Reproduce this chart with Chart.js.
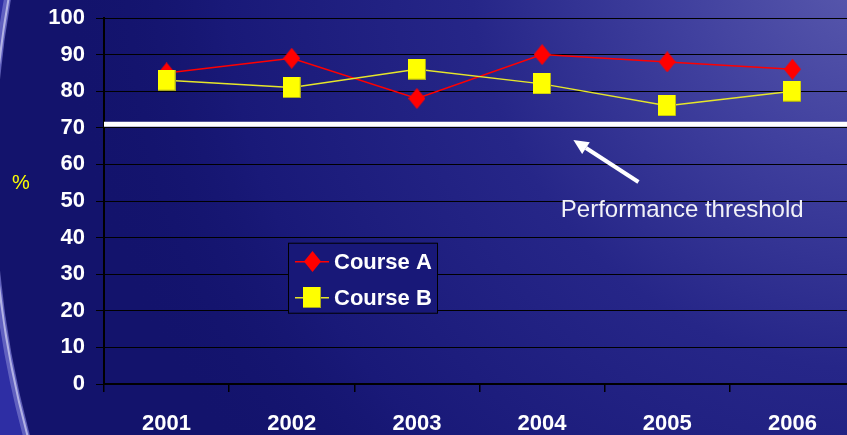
<!DOCTYPE html>
<html>
<head>
<meta charset="utf-8">
<script src="https://cdn.jsdelivr.net/npm/chart.js@4.4.1/dist/chart.umd.min.js"></script>
<style>
  html, body { margin: 0; padding: 0; width: 847px; height: 435px; overflow: hidden; background: #13136c; }
  #wrap { width: 860px; height: 435px; }
  canvas { display: block; }
</style>
</head>
<body>
<div id="wrap"><canvas id="chart" width="860" height="435"></canvas></div>
<script>
// ---- data ----
const years = ['2001', '2002', '2003', '2004', '2005', '2006'];
const courseA = [85, 89, 78, 90, 88, 86];
const courseB = [83, 81, 86, 82, 76, 80];
const yTicks = [0, 10, 20, 30, 40, 50, 60, 70, 80, 90, 100];
const threshold = 71;
const thresholdText = 'Performance threshold';
const unitText = '%';
const seriesNames = ['Course A', 'Course B'];

// ---- fonts ----
const SANS = "'Liberation Sans', Arial, sans-serif";

// ---- marker images ----
function makeDiamond(w, h, color) {
  const c = document.createElement('canvas');
  c.width = w; c.height = h;
  const g = c.getContext('2d');
  g.fillStyle = color;
  g.beginPath();
  g.moveTo(w / 2, 0);
  g.lineTo(w, h / 2);
  g.lineTo(w / 2, h);
  g.lineTo(0, h / 2);
  g.closePath();
  g.fill();
  return c;
}
function makeSquare(w, h, color, edge) {
  const c = document.createElement('canvas');
  c.width = w; c.height = h;
  const g = c.getContext('2d');
  g.fillStyle = color;
  g.fillRect(0, 0, w, h);
  g.fillStyle = edge;
  g.fillRect(0, h - 1, w, 1);
  g.fillRect(w - 1, 0, 1, h);
  return c;
}
const diamondImg = makeDiamond(17, 21, '#ff0000');
const squareImg = makeSquare(18, 21, '#ffff00', '#a8a820');

// ---- slide background ----
const backgroundPlugin = {
  id: 'slideBackground',
  beforeDraw(chart) {
    const ctx = chart.ctx;
    const W = chart.width, H = chart.height;
    ctx.save();
    ctx.fillStyle = 'rgb(19,19,108)';
    ctx.fillRect(0, 0, W, H);
    const rg = ctx.createRadialGradient(880, -40, 0, 880, -40, 820);
    rg.addColorStop(0, 'rgb(92,92,175)');
    rg.addColorStop(0.25, 'rgb(64,64,158)');
    rg.addColorStop(0.5, 'rgb(38,38,136)');
    rg.addColorStop(0.8, 'rgb(25,25,120)');
    rg.addColorStop(1, 'rgba(19,19,108,0)');
    ctx.fillStyle = rg;
    ctx.fillRect(0, 0, W, H);

    // curved band on the left edge: the part of a strip lying outside a large circle
    const cx = 995, cy = 175, R = 1000;
    ctx.save();
    ctx.beginPath();
    ctx.rect(0, 0, 120, H);
    ctx.clip();
    ctx.beginPath();
    ctx.rect(-10, -10, 140, H + 20);
    ctx.arc(cx, cy, R, 0, Math.PI * 2);
    ctx.fillStyle = 'rgb(46,46,164)';
    ctx.fill('evenodd');
    ctx.beginPath();
    ctx.arc(cx, cy, R + 3, Math.PI * 0.8, Math.PI * 1.2);
    ctx.strokeStyle = 'rgba(140,140,215,0.55)';
    ctx.lineWidth = 7;
    ctx.stroke();
    ctx.beginPath();
    ctx.arc(cx, cy, R + 2, Math.PI * 0.8, Math.PI * 1.2);
    ctx.strokeStyle = 'rgba(205,205,240,0.75)';
    ctx.lineWidth = 2;
    ctx.stroke();
    ctx.restore();
    ctx.restore();
  }
};

// ---- threshold line ----
const thresholdPlugin = {
  id: 'thresholdLine',
  beforeDatasetsDraw(chart) {
    const { ctx, chartArea, scales } = chart;
    const y = scales.y.getPixelForValue(threshold);
    ctx.save();
    ctx.strokeStyle = '#ffffff';
    ctx.lineWidth = 5;
    ctx.beginPath();
    ctx.moveTo(chartArea.left, y);
    ctx.lineTo(chartArea.right, y);
    ctx.stroke();
    ctx.restore();
  }
};

// ---- arrow + caption pointing at the threshold ----
const captionPlugin = {
  id: 'thresholdCaption',
  afterDatasetsDraw(chart) {
    const { ctx, scales } = chart;
    const x = scales.x, y = scales.y;
    const tipX = x.getPixelForValue(3.25), tipY = y.getPixelForValue(66.7);
    const tailX = x.getPixelForValue(3.77), tailY = y.getPixelForValue(55.2);
    const ang = Math.atan2(tipY - tailY, tipX - tailX);
    const headLen = 15, headHalf = 7;
    const baseX = tipX - Math.cos(ang) * headLen, baseY = tipY - Math.sin(ang) * headLen;
    ctx.save();
    ctx.strokeStyle = '#ffffff';
    ctx.fillStyle = '#ffffff';
    ctx.lineWidth = 4;
    ctx.beginPath();
    ctx.moveTo(tailX, tailY);
    ctx.lineTo(baseX, baseY);
    ctx.stroke();
    ctx.beginPath();
    ctx.moveTo(tipX, tipY);
    ctx.lineTo(baseX + Math.sin(ang) * headHalf, baseY - Math.cos(ang) * headHalf);
    ctx.lineTo(baseX - Math.sin(ang) * headHalf, baseY + Math.cos(ang) * headHalf);
    ctx.closePath();
    ctx.fill();
    ctx.font = '24px ' + SANS;
    ctx.fillStyle = '#f2f2f8';
    ctx.textAlign = 'left';
    ctx.textBaseline = 'alphabetic';
    ctx.fillText(thresholdText, x.getPixelForValue(3.15), y.getPixelForValue(45.5));
    ctx.restore();
  }
};

// ---- unit label and boxed legend ----
const legendPlugin = {
  id: 'boxedLegend',
  afterDraw(chart) {
    const { ctx, chartArea, scales } = chart;
    ctx.save();
    // unit label
    ctx.font = '20px ' + SANS;
    ctx.fillStyle = '#ffff00';
    ctx.textAlign = 'center';
    ctx.textBaseline = 'middle';
    ctx.fillText(unitText, chartArea.left - 83, scales.y.getPixelForValue(54.8));

    // legend box
    const left = chartArea.left + 184, top = scales.y.getPixelForValue(38.6);
    const w = 149, h = 70;
    ctx.fillStyle = 'rgb(24,24,120)';
    ctx.fillRect(left, top, w, h);
    ctx.strokeStyle = '#000000';
    ctx.lineWidth = 1;
    ctx.strokeRect(left + 0.5, top + 0.5, w, h);
    const rows = [top + 19, top + 55];
    chart.data.datasets.forEach((ds, i) => {
      const ry = rows[i];
      ctx.strokeStyle = ds.borderColor;
      ctx.lineWidth = 1.5;
      ctx.beginPath();
      ctx.moveTo(left + 7, ry);
      ctx.lineTo(left + 41, ry);
      ctx.stroke();
      const img = ds.pointStyle;
      ctx.drawImage(img, Math.round(left + 24 - img.width / 2), Math.round(ry - img.height / 2));
      ctx.font = 'bold 22px ' + SANS;
      ctx.fillStyle = '#ffffff';
      ctx.textAlign = 'left';
      ctx.textBaseline = 'middle';
      ctx.fillText(ds.label, left + 46, ry + 1);
    });
    ctx.restore();
  }
};

new Chart(document.getElementById('chart'), {
  type: 'line',
  data: {
    labels: years,
    datasets: [
      {
        label: seriesNames[0],
        data: courseA,
        borderColor: '#ff0000',
        borderWidth: 1.5,
        pointStyle: diamondImg,
        pointRadius: 10,
        pointHoverRadius: 10,
        tension: 0,
        fill: false,
        order: 1
      },
      {
        label: seriesNames[1],
        data: courseB,
        borderColor: '#e6e62a',
        borderWidth: 1.5,
        pointStyle: squareImg,
        pointRadius: 10,
        pointHoverRadius: 10,
        tension: 0,
        fill: false,
        order: 0
      }
    ]
  },
  options: {
    responsive: false,
    animation: false,
    events: [],
    layout: { autoPadding: false, padding: { top: 18, right: 5, left: 0, bottom: 0 } },
    plugins: {
      legend: { display: false },
      tooltip: { enabled: false },
      title: { display: false }
    },
    scales: {
      x: {
        type: 'category',
        offset: true,
        grid: { display: true, drawOnChartArea: false, drawTicks: true, tickLength: 8, color: '#000000', lineWidth: 1.5, offset: true },
        border: { display: true, color: '#000000', width: 1.5 },
        ticks: { color: '#ffffff', font: { family: SANS, size: 22, weight: 'bold' }, padding: 19, maxRotation: 0, autoSkip: false },
        afterFit(scale) { scale.height = 51; }
      },
      y: {
        min: 0,
        max: 100,
        grid: { color: '#000000', lineWidth: 1, tickLength: 8 },
        border: { display: true, color: '#000000', width: 2 },
        ticks: { color: '#ffffff', font: { family: SANS, size: 22, weight: 'bold' }, padding: 11, stepSize: 10 },
        afterBuildTicks(scale) { scale.ticks = yTicks.map(v => ({ value: v })); },
        afterFit(scale) {
          scale.width = 104;
          scale.paddingTop = 0;
          scale.paddingBottom = 0;
        }
      }
    }
  },
  plugins: [backgroundPlugin, thresholdPlugin, captionPlugin, legendPlugin]
});
</script>
</body>
</html>
